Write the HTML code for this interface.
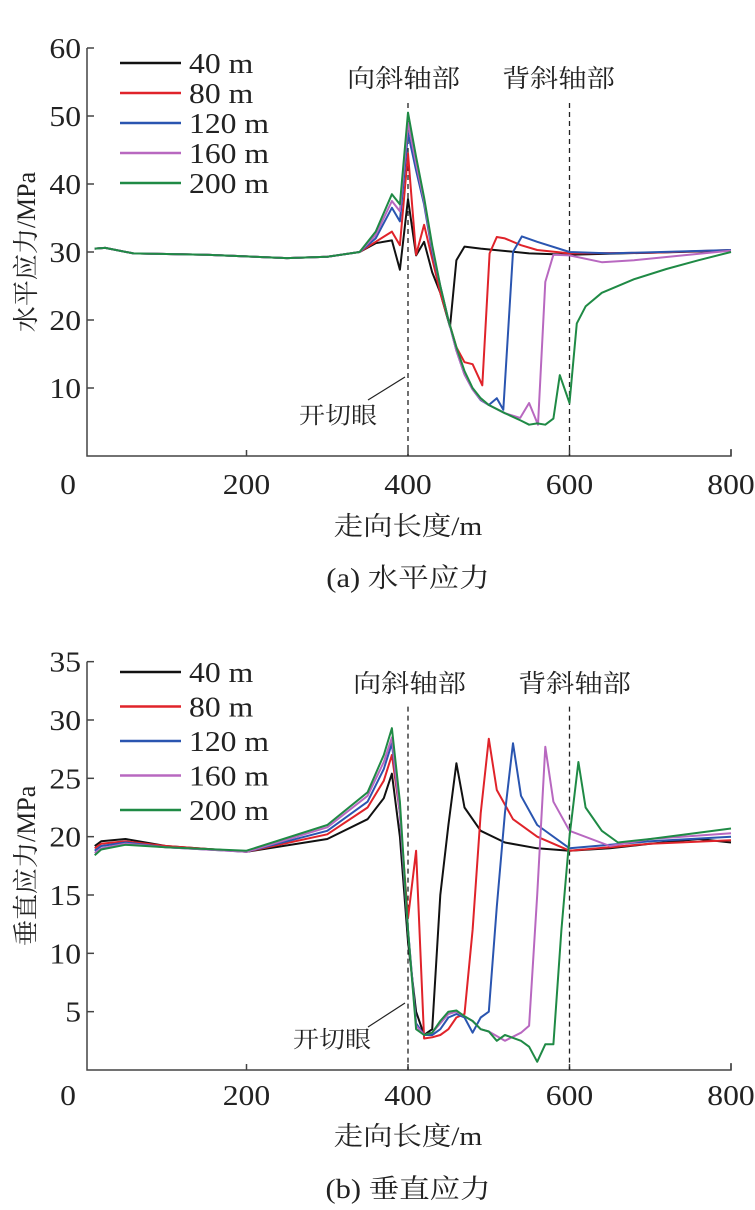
<!DOCTYPE html>
<html><head><meta charset="utf-8"><style>
html,body{margin:0;padding:0;background:#fff;}
svg text{font-family:"Liberation Serif","Noto Serif CJK SC","Noto Sans CJK SC",serif;fill:#222;}
</style></head><body>
<svg id="c" width="755" height="1205" viewBox="0 0 755 1205" xmlns="http://www.w3.org/2000/svg"></svg>
<script>
const seriesNames=["40 m","80 m","120 m","160 m","200 m"];
const colors=["#111","#e0232a","#2a55b0","#b868c0","#1f8a45"];
const xTicks=[0,200,400,600,800];
const yTicksA=[10,20,30,40,50,60];
const yTicksB=[5,10,15,20,25,30,35];
const base=[[12,30.5],[25,30.6],[60,29.8],[150,29.6],[250,29.1],[300,29.3],[340,30.0]];
const hBlack=[[360,31.3],[380,31.7],[390,27.4],[400,37.8],[410,29.5],[420,31.5],[430,27],[440,24],[452,19],[460,28.8],[470,30.8],[490,30.5],[550,29.8],[600,29.6],[700,29.9],[800,30.2]];
const hRed=[[360,31.5],[380,33],[390,31],[400,44.5],[410,29.6],[420,34],[430,29],[440,24],[450,20],[460,16],[470,13.8],[480,13.5],[492,10.4],[501,29.8],[510,32.2],[520,32],[540,31],[560,30.3],[600,29.8],[700,29.9],[800,30.3]];
const hBlue=[[360,32],[380,36.5],[390,34.5],[400,47.5],[410,42],[420,37],[430,30],[440,25],[450,20],[460,15.5],[470,12],[480,9.8],[490,8.2],[500,7.5],[510,8.5],[518,6.8],[530,30],[541,32.3],[560,31.5],[600,30],[650,29.8],[800,30.3]];
const hPurple=[[360,32.5],[380,37.5],[390,36],[400,49],[410,43],[420,37.5],[430,30.5],[440,25],[450,20],[460,15.5],[470,12],[480,9.8],[490,8.3],[500,7.5],[520,6.3],[539,5.6],[550,7.8],[561,4.6],[570,25.6],[580,29.6],[600,29.5],[640,28.5],[680,28.8],[800,30.2]];
const hGreen=[[360,33],[380,38.5],[390,37],[400,50.5],[410,44],[420,38],[430,31],[440,25],[450,20],[460,16],[470,12.5],[480,10],[490,8.5],[500,7.5],[520,6.3],[540,5.2],[550,4.6],[560,4.8],[570,4.6],[580,5.5],[588,11.9],[600,7.8],[609,19.5],[620,22],[640,24],[680,26],[720,27.5],[760,28.8],[800,30]];
const vBlack=[[12,19.2],[20,19.6],[50,19.8],[100,19.2],[200,18.7],[300,19.8],[350,21.5],[370,23.3],[380,25.4],[390,20],[400,11],[410,5],[420,3],[430,3.5],[440,15],[450,21],[460,26.3],[470,22.5],[490,20.5],[520,19.5],[560,19],[600,18.8],[650,19],[700,19.4],[760,19.8],[800,19.5]];
const vRed=[[12,19],[20,19.4],[50,19.6],[100,19.2],[200,18.7],[300,20.2],[350,22.5],[370,24.8],[380,27],[390,22],[400,13],[410,18.8],[420,2.7],[430,2.8],[440,3],[450,3.5],[460,4.5],[470,4.8],[480,12],[490,22],[500,28.4],[510,24],[530,21.5],[560,20],[600,18.8],[700,19.4],[800,19.7]];
const vBlue=[[12,18.8],[20,19.2],[50,19.5],[100,19.1],[200,18.7],[300,20.5],[350,23],[370,25.8],[380,28],[390,22],[400,12],[410,4],[420,3],[430,3],[440,3.5],[450,4.5],[460,4.8],[470,4.5],[480,3.2],[490,4.5],[500,5],[510,14],[520,22],[530,28],[540,23.5],[560,21],[600,19],[700,19.6],[800,20]];
const vPurple=[[12,18.6],[20,19],[50,19.4],[100,19.1],[200,18.7],[300,20.8],[350,23.5],[370,26.4],[380,28.5],[390,22],[400,12],[410,3.8],[420,3],[430,3.2],[440,4],[450,4.8],[460,5],[470,4.6],[480,4.2],[490,3.5],[500,3.3],[520,2.5],[540,3.2],[550,3.8],[560,15],[570,27.7],[580,23],[600,20.5],[650,19.2],[700,19.8],[800,20.3]];
const vGreen=[[12,18.4],[20,18.9],[50,19.3],[100,19.1],[200,18.8],[300,21],[350,23.8],[370,27],[380,29.3],[390,23],[400,12],[410,3.5],[420,3],[430,3.2],[440,4.2],[450,5],[460,5.1],[470,4.6],[480,4.2],[490,3.5],[500,3.3],[510,2.5],[520,3],[540,2.5],[550,2],[560,0.7],[570,2.2],[580,2.2],[590,12],[600,20],[611,26.4],[620,22.5],[640,20.5],[660,19.5],[700,19.8],[800,20.7]];
const topSeries=[hBlack,hRed,hBlue,hPurple,hGreen];
const botSeries=[vBlack,vRed,vBlue,vPurple,vGreen];

const svg=document.getElementById('c');
const NS='http://www.w3.org/2000/svg';
const SX=1.13;
function mk(tag,attrs,parent){const e=document.createElementNS(NS,tag);for(const k in attrs)e.setAttribute(k,attrs[k]);(parent||svg).appendChild(e);return e;}
function txt(s,x,y,size,anchor,parent){const t=mk('text',{x:(x/SX).toFixed(1),y:y,'font-size':size,'text-anchor':anchor||'start',transform:`scale(${SX},1)`},parent);t.textContent=s;return t;}

function panel(cfg){
  const g=mk('g',{});
  
  
  const X=v=>85+v*0.8075;
  const Y=v=>cfg.y0-v*cfg.ky;
  const top=Y(cfg.ymax);
  const ax=mk('path',{d:`M87 ${top} V${cfg.y0} H${X(800)} V${cfg.y0-7}`,stroke:'#444','stroke-width':1.5,fill:'none'},g);
  
  
  xTicks.forEach(v=>{
    if(v>0){const tk=mk('line',{x1:X(v),x2:X(v),y1:cfg.y0,y2:cfg.y0-6,stroke:'#444','stroke-width':1.5},g);
    
    }
    const t=txt(String(v),v===0?68:X(v),cfg.y0+cfg.tk,28,'middle',g);
    
    
  });
  cfg.yticks.forEach(v=>{
    const tk=mk('line',{x1:87,x2:94,y1:Y(v),y2:Y(v),stroke:'#444','stroke-width':1.5},g);
    
    
    const t=txt(String(v),81,Y(v)+10,28,'end',g);
    
    
  });
  [400,600].forEach(v=>{
    const l=mk('line',{x1:X(v),x2:X(v),y1:top+(cfg.ref0||0),y2:cfg.y0,stroke:'#222','stroke-width':1.3,'stroke-dasharray':'5,4'},g);
    
    
  });
  cfg.series.forEach((s,i)=>{
    const pts=(cfg.base?cfg.base.concat(s):s).map(p=>X(p[0]).toFixed(1)+','+Y(p[1]).toFixed(1)).join(' ');
    const pl=mk('polyline',{points:pts,fill:'none',stroke:colors[i],'stroke-width':2,'stroke-linejoin':'round'},g);
    
    
  });
  seriesNames.forEach((n,i)=>{
    const ly=cfg.legY+i*cfg.legDy;
    const l=mk('line',{x1:120,x2:181,y1:ly,y2:ly,stroke:colors[i],'stroke-width':2.5},g);
    
    
    const t=txt(n,189,ly+10,28,'start',g);
    
    
  });
  const a1=txt('向斜轴部',cfg.t1x,cfg.ty,25,'start',g);
  
  
  const a2=txt('背斜轴部',cfg.t2x,cfg.ty,25,'start',g);
  
  
  const k=txt('开切眼',cfg.kx,cfg.ky2,23,'start',g);
  
  
  const kl=mk('line',{x1:cfg.kl[0],y1:cfg.kl[1],x2:cfg.kl[2],y2:cfg.kl[3],stroke:'#222','stroke-width':1.2},g);
  
  
  const yt=mk('text',{x:0,y:0,'font-size':26,'text-anchor':'middle',transform:`translate(35 ${(top+cfg.y0)/2}) rotate(-90)`},g);
  yt.textContent=cfg.ytitle;
  
  
  const xt=txt('走向长度/m',408,cfg.y0+cfg.xt,26,'middle',g);
  
  
  const cp=txt(cfg.caption,408,cfg.y0+cfg.cp,27,'middle',g);
  
  
}
panel({name:'horizontal-stress-chart',y0:456,ky:6.8,ymax:60,yticks:yTicksA,series:topSeries,base:base,tk:38,xt:79,cp:131,
  legY:63,legDy:30,t1x:347,t2x:502,ty:87,kx:299,ky2:423,kl:[368,400,405,377],ytitle:'水平应力/MPa',caption:'(a)  水平应力',ref0:55});
panel({name:'vertical-stress-chart',y0:1070,ky:11.667,ymax:35,yticks:yTicksB,series:botSeries,tk:35,xt:75,cp:128,
  legY:672,legDy:34.5,t1x:353,t2x:518,ty:692,kx:293,ky2:1047,kl:[368,1027,405,1003],ytitle:'垂直应力/MPa',caption:'(b)  垂直应力',ref0:45});
</script>
</body></html>
